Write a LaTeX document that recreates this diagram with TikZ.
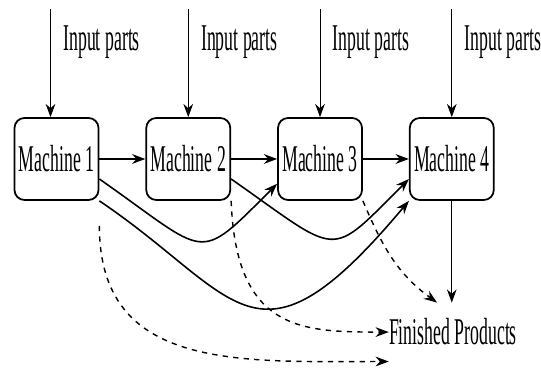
\documentclass[tikz,border=0pt]{standalone}
\usepackage{fontspec}
\newfontfamily\mfont{Liberation Serif}[FakeStretch=0.47]
\usetikzlibrary{arrows.meta, positioning}

\tikzset{
    machine/.style={draw, line width=1pt, rounded corners=0.2cm,
        minimum width=1.68cm, minimum height=1.64cm, inner sep=0pt},
    partlabel/.style={inner sep=0pt, right=0.25cm},
    infeed/.style={->, line width=0.5pt},
    flow/.style={->, line width=1.4pt},
    bypass/.style={->, line width=0.9pt},
    scrap/.style={->, dashed, line width=0.8pt},
}

\begin{document}
\begin{tikzpicture}[>={Stealth[length=7.5pt, width=5.5pt]},
    every node/.style={font=\mfont\fontsize{21.5}{25}\selectfont}]
    \useasboundingbox (0,0) rectangle (10.82,7.42);

    % Các máy
    \node[machine] (M1) at (1.13,4.24) {Machine 1};
    \node[machine, right=0.92cm of M1] (M2) {Machine 2};
    \node[machine, right=0.92cm of M2] (M3) {Machine 3};
    \node[machine, right=0.92cm of M3] (M4) {Machine 4};

    % Thành phẩm
    \node[anchor=base, inner xsep=0pt, inner ysep=9pt] (FP) at (9.06,0.52) {Finished Products};

    % Đầu vào
    \foreach \i/\dx in {1/-0.12, 2/0, 3/0, 4/0} {
        \coordinate (in\i) at ([shift={(\dx,2.16)}]M\i.north);
        \draw[infeed] (in\i) -- node[partlabel, pos=0.31] {Input parts} (in\i |- M\i.north);
    }

    % Dây chuyền chính
    \foreach \a/\b in {1/2, 2/3, 3/4}
        \draw[flow] (M\a) -- (M\b);

    % Các đường tắt
    \draw[bypass] (M1.-25) .. controls +(-35:2.7) and +(-135:2.3) .. (M3.-150);
    \draw[bypass] (M2.-25) .. controls +(-35:2.7) and +(-135:2.3) .. (M4.-155);
    \draw[bypass] (M1.south east) .. controls +(-34:3.4) and +(-130:4.8) .. (M4.south west);

    % Ra thành phẩm
    \draw[scrap, shorten <=0.5cm] (M1.south east) .. controls +(0,-3.4) and +(-3,0) .. (FP.south west);
    \draw[scrap] (M2.south east) .. controls +(0.1,-2.6) and +(-1.76,0) .. (FP.west);
    \draw[scrap] (M3.south east) to[out=-67, in=144] ([xshift=-0.32cm]FP.north);
    \draw[infeed] (M4) -- (M4 |- FP.north);
\end{tikzpicture}
\end{document}
